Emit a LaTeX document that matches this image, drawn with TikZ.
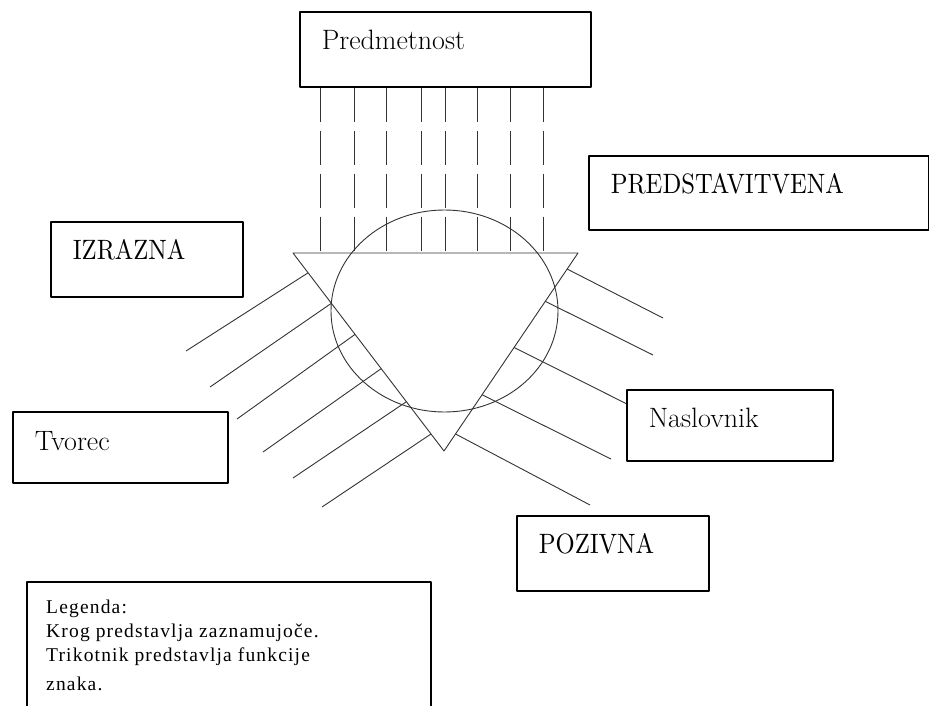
\documentclass[tikz,border=0pt]{standalone}
\usepackage{fontspec}
\usetikzlibrary{calc}
\newfontfamily\capsfont{lmroman10-regular.otf}[FakeStretch=0.88]
\newfontfamily\legendfont{Liberation Serif}[LetterSpace=6]

\begin{document}
\begin{tikzpicture}
    [x=1pt,y=-1pt,line join=round,
     fbox/.style={draw,line width=1.6pt,anchor=north west,inner xsep=22pt,inner ysep=0pt,
       align=left,text height=38pt,text depth=37pt,font=\fontsize{28}{34}\selectfont},
     ray/.style={draw=black!80,line width=0.9pt},
     dray/.style={ray,dash pattern=on 34pt off 9pt}]
    \useasboundingbox (0,0) rectangle (929,706);

    \node[fbox,text width=247pt] (pred) at (299,11) {Predmetnost};
    \node[fbox,text width=296pt,text depth=36pt] (pstav) at (588,155) {\capsfont PREDSTAVITVENA};
    \node[fbox,text width=148pt] (izr) at (50,221) {\capsfont IZRAZNA};
    \node[fbox,text width=171pt,text height=39pt,text depth=32pt] (tvo) at (12,411) {Tvorec};
    \node[fbox,text width=162pt,text depth=33pt] (nasl) at (626,389) {Naslovnik};
    \node[fbox,text width=148pt] (poz) at (516,515) {\capsfont POZIVNA};

    \node[draw,line width=1.6pt,anchor=north west,minimum width=404pt,minimum height=160pt] (legbox) at (26,581) {};
    \node[anchor=north west,inner sep=0pt,align=left,font=\legendfont\fontsize{19.5}{24}\selectfont]
      (legtext) at (46,600) {Legenda:\\Krog predstavlja zaznamujoče.\\Trikotnik predstavlja funkcije\\[5pt]znaka.};

    \coordinate (ta) at (293,253);
    \coordinate (tb) at (578,253);
    \coordinate (tc) at (444,451);
    \draw[ray] (ta) -- (tb) -- (tc) -- cycle;
    \draw[ray] (444.5,311) ellipse [x radius=113.5pt,y radius=101pt];

    \foreach \x in {320,354,386,421,445,477,510,543}
      \draw[dray] (\x,0 |- pred.south) -- (\x,0 |- ta);

    \foreach \f/\rx/\ry in {0.100/186/351,0.254/210/387,0.411/237/419,0.584/263/452,0.751/293/478,0.914/322/507}
      \draw[ray] (\rx,\ry) -- ($(ta)!\f!(tc)$);
    \foreach \f/\rx/\ry in {0.081/663/318,0.244/653/355,0.716/611/459,0.914/590/505}
      \draw[ray] ($(tb)!\f!(tc)$) -- (\rx,\ry);
    \draw[ray] ($(tb)!0.477!(tc)$) -- ($(nasl.north west)!0.2!(nasl.south west)$);

  \end{tikzpicture}
\end{document}
